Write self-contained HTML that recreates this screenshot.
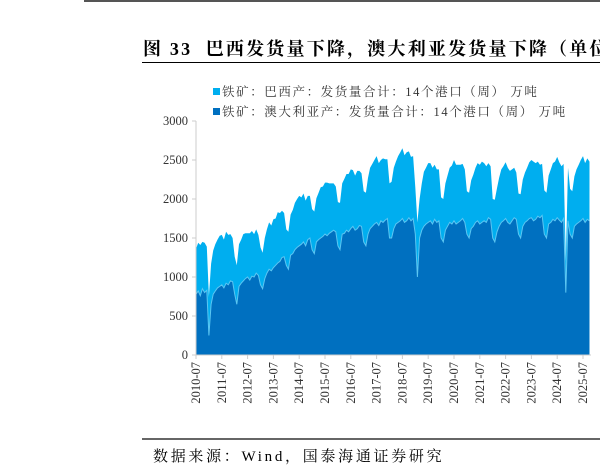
<!DOCTYPE html>
<html><head><meta charset="utf-8"><style>
body{margin:0;width:600px;height:475px;background:#fff;overflow:hidden;position:relative;font-family:"Liberation Serif","Noto Serif CJK SC",serif}
</style></head><body>
<div style="position:absolute;left:84px;top:0;width:516px;height:2px;background:#555"></div>
<div style="position:absolute;left:143px;top:35px;width:457px;overflow:hidden;font-size:18px;letter-spacing:2.2px;font-weight:bold;white-space:nowrap;color:#000">图 33&nbsp; 巴西发货量下降，澳大利亚发货量下降（单位：万吨）</div>
<div style="position:absolute;left:142px;top:62px;width:458px;height:1px;background:#000"></div>
<svg id="c" width="600" height="475" style="position:absolute;left:0;top:0"></svg>
<div style="position:absolute;left:142px;top:438px;width:458px;height:2px;background:#666"></div>
<div style="position:absolute;left:153px;top:445px;font-size:15px;letter-spacing:2.7px;color:#000;white-space:nowrap">数据来源：Wind，国泰海通证券研究</div>
<script>
const yTicks=[0,500,1000,1500,2000,2500,3000];
const xTickLabels=["2010-07","2011-07","2012-07","2013-07","2014-07","2015-07","2016-07","2017-07","2018-07","2019-07","2020-07","2021-07","2022-07","2023-07","2024-07","2025-07"];
const seriesNames=["铁矿：巴西产：发货量合计：14个港口（周） 万吨","铁矿：澳大利亚产：发货量合计：14个港口（周） 万吨"];
const australia=[780,820,760,850,800,830,
250,650,780,820,860,880,900,860,920,900,950,940,
780,650,880,920,950,980,1000,960,1010,1000,1050,1020,
900,850,980,1050,1100,1080,1120,1150,1180,1200,1250,1260,
1150,1100,1280,1300,1350,1380,1400,1420,1450,1400,1480,1500,
1350,1300,1450,1480,1500,1520,1550,1530,1560,1580,1600,1580,
1400,1350,1550,1560,1600,1580,1620,1650,1600,1620,1660,1650,
1450,1400,1550,1620,1650,1680,1700,1660,1720,1700,1730,1750,
1500,1500,1620,1680,1700,1720,1750,1700,1720,1760,1720,1750,
1550,1000,1500,1600,1650,1680,1700,1720,1680,1740,1700,1720,
1500,1450,1600,1650,1700,1680,1720,1680,1700,1720,1750,1700,
1550,1500,1620,1650,1700,1720,1680,1700,1720,1700,1760,1740,
1500,1450,1580,1650,1700,1720,1750,1700,1680,1720,1760,1740,
1550,1500,1650,1700,1720,1750,1760,1720,1740,1780,1760,1790,
1550,1500,1680,1700,1740,1720,1760,1730,1700,1750,800,1720,
1550,1500,1650,1680,1700,1720,1750,1700,1740,1720];
const brazil=[580,620,650,600,640,560,
500,520,560,600,620,650,640,620,660,640,600,560,
480,500,540,560,600,580,560,600,580,550,560,520,
480,460,520,560,600,580,620,600,650,620,600,560,
460,480,520,560,600,620,640,600,620,580,560,540,
520,540,560,600,650,640,660,680,640,620,600,580,
560,600,650,700,720,740,760,720,700,740,700,680,
650,680,720,780,800,820,850,800,780,820,780,760,
700,720,780,800,850,880,900,860,880,850,820,800,
600,700,500,600,700,720,760,740,720,700,680,660,
520,550,600,650,700,750,780,760,740,720,700,680,
550,580,620,660,700,740,760,780,740,720,700,680,
500,540,560,620,680,700,720,700,680,660,640,600,
520,560,600,640,680,720,740,760,720,700,680,660,
560,580,620,680,720,760,780,740,720,700,400,680,
580,600,640,700,740,780,800,760,780,760];
const NS="http://www.w3.org/2000/svg",svgEl=document.getElementById('c');
const X0=196,X1=591,Y0=355,Y1=121;
const xs=i=>X0+i*(387/180);
const ys=v=>Y0-(v/3000)*(Y0-Y1);
function mk(t,a){const e=document.createElementNS(NS,t);for(const k in a)e.setAttribute(k,a[k]);svgEl.appendChild(e);return e;}
const nPts=australia.length;
let pTot="",pAus="";
for(let i=0;i<nPts;i++){pTot+=(i?"L":"M")+xs(i).toFixed(1)+","+ys(australia[i]+brazil[i]).toFixed(1);pAus+=(i?"L":"M")+xs(i).toFixed(1)+","+ys(australia[i]).toFixed(1);}
const a1=mk('path',{d:pTot+"L"+xs(nPts-1)+","+Y0+"L"+X0+","+Y0+"Z",fill:"#00aeef"});


const a2=mk('path',{d:pAus+"L"+xs(nPts-1)+","+Y0+"L"+X0+","+Y0+"Z",fill:"#0070c0"});


const l2=mk('path',{d:pAus,fill:"none",stroke:"#5cc6f2","stroke-width":1});


const ya=mk('line',{x1:X0,y1:Y1,x2:X0,y2:Y0,stroke:"#ccc"});


const xa=mk('line',{x1:X0,y1:Y0,x2:X1,y2:Y0,stroke:"#ccc"});


yTicks.forEach(v=>{const y=ys(v);
 const tk=mk('line',{x1:X0-4,y1:y,x2:X0,y2:y,stroke:"#ccc"});
 
 
 const t=mk('text',{x:X0-8,y:y+4,"text-anchor":"end","font-size":"12.5","fill":"#333","font-family":"Liberation Serif"});t.textContent=v;
 
 });
xTickLabels.forEach((s,k)=>{const x=xs(k*12);
 const tk=mk('line',{x1:x,y1:Y0,x2:x,y2:Y0+4,stroke:"#ccc"});
 
 
 const t=mk('text',{x:0,y:0,transform:`translate(${x+4},${Y0+7}) rotate(-90)`,"text-anchor":"end","font-size":"12.5","fill":"#333","font-family":"Liberation Serif"});t.textContent=s;
 
 });
const lc=["#00aeef","#0070c0"];
seriesNames.forEach((s,k)=>{const y=96+k*20;
 const r=mk('rect',{x:213,y:y-8,width:7,height:7,fill:lc[k]});
 
 
 const t=mk('text',{x:222,y:y,"font-size":"12.5","fill":"#333","letter-spacing":"1.6","font-family":"Liberation Serif, Noto Serif CJK SC, serif"});t.textContent=s;
 
 });
</script>
</body></html>
